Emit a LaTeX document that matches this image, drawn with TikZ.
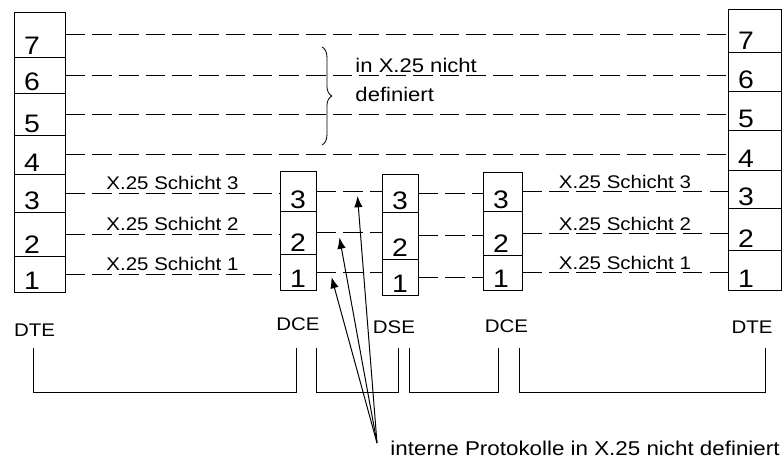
\documentclass[tikz,border=0pt]{standalone}
\usepackage{fontspec}
\setmainfont{Liberation Sans}[FakeStretch=1.12]
\usetikzlibrary{arrows.meta,positioning,fit,calc,decorations.pathreplacing}

\tikzset{
  cell/.style={draw, inner sep=0pt},
  num/.style={anchor=base west, inner sep=0pt, xshift=0.25cm, yshift=0.08cm, font=\fontsize{18}{20}\selectfont},
  layer/.style={dash pattern=on 14pt off 5pt},
  lbl/.style={anchor=base, inner sep=0pt, yshift=2pt, font=\fontsize{13}{15}\selectfont},
  tag/.style={anchor=base, inner sep=0pt, font=\fontsize{13}{15}\selectfont},
  remark/.style={anchor=base west, inner sep=0pt, font=\fontsize{14}{16}\selectfont},
}

\begin{document}
\begin{tikzpicture}[x=0.025cm, y=-0.025cm, line width=0.7pt]
  \useasboundingbox (0,0) rectangle (783,458);

  % Schichten
  \foreach \n/\t/\b in {7/12/57, 6/57/93, 5/93/135, 4/135/174, 3/174/212, 2/212/256, 1/256/292}
    \node[cell, fit={(14,\t) (65,\b)}, label={[num]south west:\n}] (dteL\n) {};
  \foreach \n/\t/\b in {7/9/52, 6/52/91, 5/91/130, 4/130/170, 3/170/208, 2/208/250, 1/250/290}
    \node[cell, fit={(728,\t) (781,\b)}, label={[num]south west:\n}] (dteR\n) {};
  \foreach \n/\t/\b in {3/171/211, 2/211/254, 1/254/290}
    \node[cell, fit={(280,\t) (316,\b)}, label={[num]south west:\n}] (dceL\n) {};
  \foreach \n/\t/\b in {3/174/212, 2/212/259, 1/259/295}
    \node[cell, fit={(382,\t) (418,\b)}, label={[num]south west:\n}] (dse\n) {};
  \foreach \n/\t/\b in {3/172/211, 2/211/255, 1/255/290}
    \node[cell, fit={(483,\t) (522,\b)}, label={[num]south west:\n}] (dceR\n) {};

  % gestrichelte Verbindungen
  \foreach \n in {7,6,5,4}
    \draw[layer] (dteL\n.east) -- (dteL\n.east -| dteR\n.west);
  \foreach \n in {3,2,1} {
    \draw[layer] (dteL\n.east) -- (dteL\n.east -| dceL\n.west);
    \draw[layer] (dceL\n.east) -- (dceL\n.east -| dse\n.west);
    \draw[layer] (dse\n.east) -- (dse\n.east -| dceR\n.west);
    \draw[layer] (dceR\n.east) -- (dceR\n.east -| dteR\n.west);
    \node[lbl] (schL\n) at ($(dteL\n.east)!0.5!(dceL\n.west)$) {X.25 Schicht \n};
    \node[lbl] (schR\n) at ($(dceR\n.east)!0.5!(dceR\n.east -| dteR\n.west)$) {X.25 Schicht \n};
  }

  \draw[decorate, decoration={brace, amplitude=7pt}, line width=0.6pt] (322,47) -- (322,145);
  \node[remark] (undef) at (355,73) {in X.25 nicht};
  \node[remark] (undef2) at ([yshift=-0.72cm]undef.base west) {definiert};

  % Bezeichnungen
  \node[tag, anchor=base west] (tDTEl) at ([yshift=-1.1cm]dteL1.south west) {DTE};
  \node[tag] (tDCEl) at ([yshift=-1cm]dceL1.south) {DCE};
  \node[tag] (tDSE) at ([xshift=-0.15cm, yshift=-0.95cm]dse1.south) {DSE};
  \node[tag] (tDCEr) at ([xshift=0.1cm, yshift=-1.05cm]dceR1.south) {DCE};
  \node[tag] (tDTEr) at ([xshift=-0.06cm, yshift=-1.07cm]dteR1.south) {DTE};

  \foreach \a/\b in {33/296, 316/398, 409/498, 519/765}
    \draw (\a,348) |- (\b,392) -- (\b,348);

  % interne Protokolle
  \node[remark, font=\fontsize{14.2}{16}\selectfont] (note) at (390,455) {interne Protokolle in X.25 nicht definiert};
  \coordinate (src) at ($(note.base west)+(-13,-12)$);
  \coordinate (p3) at ($(dceL3.east)+(41,5)$);
  \coordinate (p2) at ($(dceL2.east)+(23,5)$);
  \coordinate (p1) at ($(dceL1.east)+(15,5)$);
  \foreach \p in {p3,p2,p1}
    \draw[-{Latex[length=8pt,width=6pt]}] (src) -- (\p);
\end{tikzpicture}
\end{document}
